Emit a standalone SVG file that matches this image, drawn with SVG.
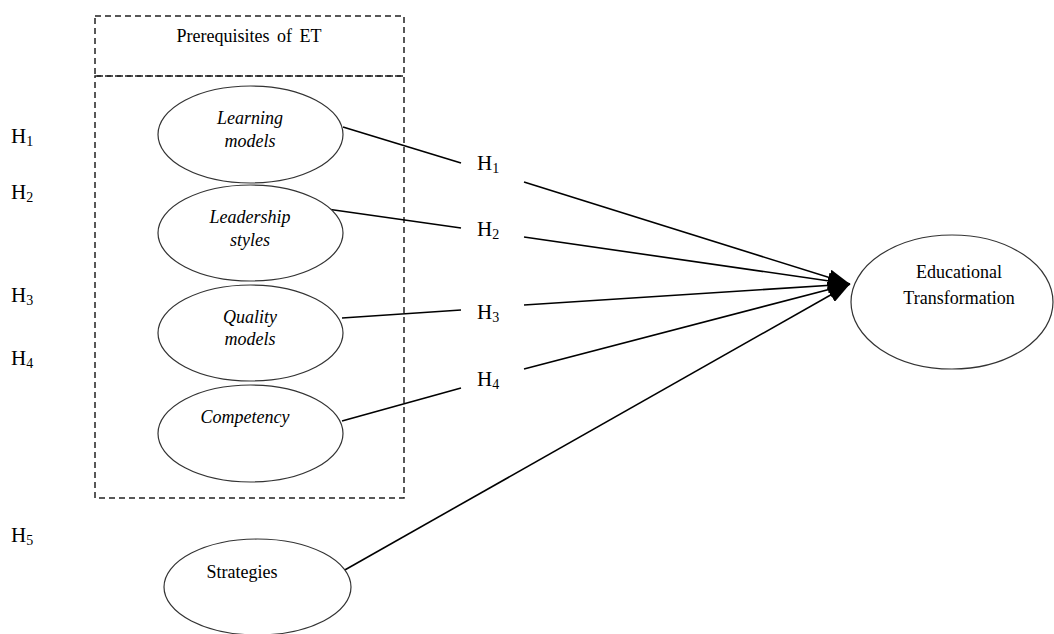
<svg xmlns="http://www.w3.org/2000/svg" width="1054" height="634" viewBox="0 0 1054 634">
  <style>
    .node ellipse { fill: #fff; stroke: #333; stroke-width: 1.2; }
    .t { font-family: "Liberation Serif", "Times New Roman", serif; fill: #000; text-anchor: middle; }
    .it { font-style: italic; }
    .h { font-family: "Liberation Serif", "Times New Roman", serif; fill: #000; font-size: 21px; }
    .sub { font-size: 14px; }
    .dash { fill: none; stroke: #222; stroke-width: 1.5; stroke-dasharray: 6 4; }
    .conn path { fill: none; stroke: #000; stroke-width: 1.6; }
  </style>
  <defs>
    <marker id="arr" markerUnits="userSpaceOnUse" viewBox="0 0 22 16" refX="22" refY="8" markerWidth="22" markerHeight="16" orient="auto">
      <path d="M0,0 L22,8 L0,16 z" fill="#000"/>
    </marker>
  </defs>
  <rect width="1054" height="634" fill="#fff"/>

  <g id="prereq-box">
    <rect class="dash" x="95" y="16" width="309" height="60"/>
    <rect class="dash" x="95" y="76" width="309" height="422"/>
    <text class="t" x="249" y="42" font-size="18" word-spacing="3">Prerequisites of ET</text>
  </g>

  <g id="left-labels">
    <text class="h" x="11" y="143">H<tspan class="sub" dy="3">1</tspan></text>
    <text class="h" x="11" y="199">H<tspan class="sub" dy="3">2</tspan></text>
    <text class="h" x="11" y="302">H<tspan class="sub" dy="3">3</tspan></text>
    <text class="h" x="11" y="365">H<tspan class="sub" dy="3">4</tspan></text>
    <text class="h" x="11" y="542">H<tspan class="sub" dy="3">5</tspan></text>
  </g>

  <g class="conn" id="connectors">
    <path d="M343,127 L461,163"/>
    <path d="M524,182 L850,284" marker-end="url(#arr)"/>
    <path d="M327,209 L461,228"/>
    <path d="M524,237 L850,284" marker-end="url(#arr)"/>
    <path d="M342,318 L461,310"/>
    <path d="M524,305 L850,284" marker-end="url(#arr)"/>
    <path d="M342,421 L461,388"/>
    <path d="M524,369 L850,284" marker-end="url(#arr)"/>
    <path d="M343,571 L850,284" marker-end="url(#arr)"/>
  </g>

  <g id="mid-labels">
    <text class="h" x="477" y="170">H<tspan class="sub" dy="3">1</tspan></text>
    <text class="h" x="477" y="236">H<tspan class="sub" dy="3">2</tspan></text>
    <text class="h" x="477" y="319">H<tspan class="sub" dy="3">3</tspan></text>
    <text class="h" x="477" y="386">H<tspan class="sub" dy="3">4</tspan></text>
  </g>

  <g class="node" id="learning-models">
    <ellipse cx="250.5" cy="134.5" rx="92.5" ry="48.5"/>
    <text class="t it" x="250" y="124" font-size="18">Learning</text>
    <text class="t it" x="250" y="147" font-size="18">models</text>
  </g>
  <g class="node" id="leadership-styles">
    <ellipse cx="250.5" cy="233" rx="92.5" ry="48"/>
    <text class="t it" x="250" y="223" font-size="18">Leadership</text>
    <text class="t it" x="250" y="246" font-size="18">styles</text>
  </g>
  <g class="node" id="quality-models">
    <ellipse cx="250.5" cy="333" rx="92.5" ry="48"/>
    <text class="t it" x="250" y="323" font-size="18">Quality</text>
    <text class="t it" x="250" y="345" font-size="18">models</text>
  </g>
  <g class="node" id="competency">
    <ellipse cx="250.5" cy="433.5" rx="92.5" ry="48.5"/>
    <text class="t it" x="245" y="423" font-size="18">Competency</text>
  </g>
  <g class="node" id="strategies">
    <ellipse cx="257.5" cy="587" rx="93.5" ry="48"/>
    <text class="t" x="242" y="578" font-size="18">Strategies</text>
  </g>
  <g class="node" id="educational-transformation">
    <ellipse cx="952" cy="302" rx="101" ry="67"/>
    <text class="t" x="959" y="278" font-size="18">Educational</text>
    <text class="t" x="959" y="304" font-size="18">Transformation</text>
  </g>
</svg>
